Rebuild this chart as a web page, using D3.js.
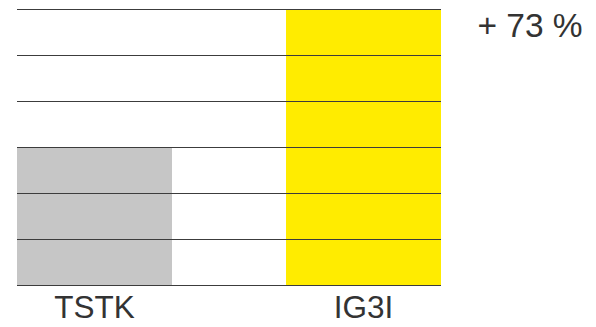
<!DOCTYPE html>
<html>
<head>
<meta charset="utf-8">
<script src="https://cdn.jsdelivr.net/npm/d3@7"></script>
<style>
  body { margin: 0; background: #fff; }
  svg { display: block; }
</style>
</head>
<body>
<script>
const width = 596;
const height = 327;

// data
const categories = ["TSTK", "IG3I"];
const values = [3, 6];
const colors = ["#c6c6c6", "#ffec00"];
const gridTicks = [0, 1, 2, 3, 4, 5, 6];
const changeLabel = "+ 73 %";

const x = d3.scaleBand()
  .domain(categories)
  .range([17, 441])
  .paddingInner(0.4238)
  .paddingOuter(0);

const y = d3.scaleLinear()
  .domain([0, 6])
  .range([285, 9]);

const svg = d3.select("body").append("svg")
  .attr("width", width)
  .attr("height", height);

// bars
svg.append("g")
  .selectAll("rect")
  .data(categories)
  .join("rect")
  .attr("x", d => x(d))
  .attr("width", x.bandwidth())
  .attr("y", (d, i) => y(values[i]))
  .attr("height", (d, i) => y(0) - y(values[i]))
  .attr("fill", (d, i) => colors[i]);

// gridlines drawn over the bars
svg.append("g")
  .selectAll("line")
  .data(gridTicks)
  .join("line")
  .attr("x1", 17)
  .attr("x2", 441)
  .attr("y1", d => Math.round(y(d)) + 0.5)
  .attr("y2", d => Math.round(y(d)) + 0.5)
  .attr("stroke", "#3c3c3c")
  .attr("stroke-width", 1.2);

// category labels
svg.append("g")
  .selectAll("text")
  .data(categories)
  .join("text")
  .attr("x", d => x(d) + x.bandwidth() / 2)
  .attr("y", 318)
  .attr("text-anchor", "middle")
  .attr("font-family", "Liberation Sans, Arial, sans-serif")
  .attr("font-size", 31.5)
  .attr("fill", "#333")
  .text(d => d);

// change label
svg.append("text")
  .attr("x", 530)
  .attr("y", 37)
  .attr("text-anchor", "middle")
  .attr("font-family", "Liberation Sans, Arial, sans-serif")
  .attr("font-size", 33.5)
  .attr("fill", "#333")
  .text(changeLabel);
</script>
</body>
</html>
